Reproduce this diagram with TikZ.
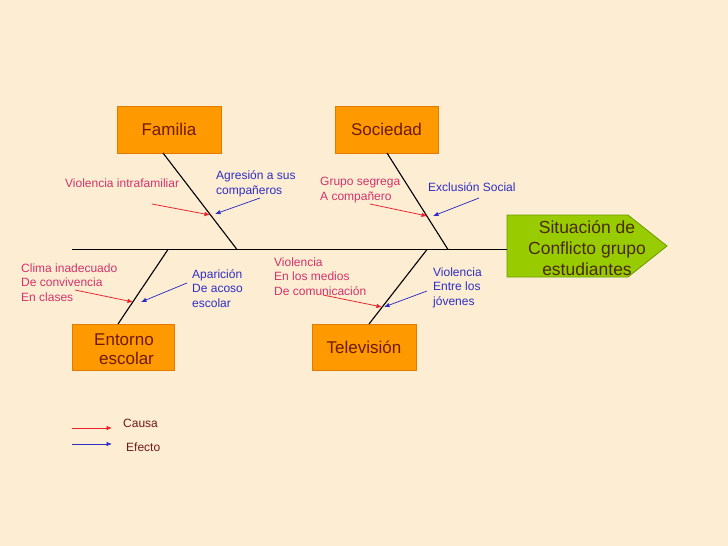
\documentclass[tikz,border=0pt]{standalone}
\usepackage{fontspec}
\setmainfont{Liberation Sans}
\usetikzlibrary{arrows.meta}
\definecolor{bg}{HTML}{FCEDD3}
\definecolor{boxfill}{HTML}{FF9900}
\definecolor{boxline}{HTML}{E07A00}
\definecolor{boxtext}{HTML}{6E1A00}
\definecolor{goalfill}{HTML}{99CC00}
\definecolor{goalline}{HTML}{6B9900}
\definecolor{goaltext}{HTML}{4A2A00}
\definecolor{causecol}{HTML}{D4336A}
\definecolor{effectcol}{HTML}{2E2EC4}
\definecolor{redarrow}{HTML}{E8202A}
\definecolor{legendtext}{HTML}{6E1A1A}
\begin{document}
\begin{tikzpicture}[x=1pt,y=-1pt,
  catbox/.style={draw=boxline, fill=boxfill, line width=0.8pt, text=boxtext,
    font=\fontsize{17}{18.5}\selectfont, inner sep=0pt, align=center},
  bone/.style={black, line width=1.1pt},
  causetxt/.style={text=causecol, font=\fontsize{12}{14.4}\selectfont, anchor=base west, inner sep=0pt, align=left},
  effecttxt/.style={text=effectcol, font=\fontsize{12}{14.4}\selectfont, anchor=base west, inner sep=0pt, align=left},
  legendtxt/.style={text=legendtext, font=\fontsize{12}{14}\selectfont, anchor=base west, inner sep=0pt},
  causearrow/.style={redarrow, line width=0.75pt, -{Latex[length=5.5pt,width=4.5pt]}},
  effectarrow/.style={effectcol, line width=0.75pt, -{Latex[length=5.5pt,width=4.5pt]}}]
\useasboundingbox (0,0) rectangle (728,546);
\fill[bg] (0,0) rectangle (728,546);

% effect (head)
\filldraw[fill=goalfill, draw=goalline, line width=0.8pt]
  (507,215) -- (628,215) -- (667,246) -- (628,277) -- (507,277) -- cycle;
\node (goal) [text=goaltext, font=\fontsize{17.5}{21}\selectfont, align=center, inner sep=0pt,
  minimum width=160pt, minimum height=62pt] at (587,248)
  {Situación de\\Conflicto grupo\\estudiantes};

% category boxes
\node (fam) [catbox, minimum width=104pt, minimum height=47pt] at (169,129.5) {Familia};
\node (soc) [catbox, minimum width=103pt, minimum height=47pt] at (386.5,129.5) {Sociedad};
\node (ent) [catbox, minimum width=102pt, minimum height=46pt] at (123,347) {};
\node (enttxt) [text=boxtext, font=\fontsize{17}{18.5}\selectfont, inner sep=0pt, align=center]
  at (124,349) {Entorno\\\hspace*{5pt}escolar};
\node (tel) [catbox, minimum width=104pt, minimum height=46pt] at (364,347) {Televisión};

% spine and bones
\coordinate (spinestart) at (72,249.5);
\draw[bone] (spinestart) -- (507,249.5);
\coordinate (famtop) at (163,153);   \coordinate (famfoot) at (237,249.5);
\coordinate (soctop) at (387,153);   \coordinate (socfoot) at (448,249.5);
\coordinate (entbot) at (118,324);   \coordinate (entfoot) at (168,249.5);
\coordinate (telbot) at (369,324);   \coordinate (telfoot) at (427,249.5);
\draw[bone] (famtop) -- (famfoot);
\draw[bone] (soctop) -- (socfoot);
\draw[bone] (entbot) -- (entfoot);
\draw[bone] (telbot) -- (telfoot);

% labels (base = baseline of last line)
\node (l1) [causetxt] at (65,187) {Violencia intrafamiliar};
\node (l2) [effecttxt] at (216,194) {Agresión a sus\\compañeros};
\node (l3) [causetxt] at (320,200) {Grupo segrega\\A compañero};
\node (l4) [effecttxt] at (428,191) {Exclusión Social};
\node (l5) [causetxt] at (21,301) {Clima inadecuado\\De convivencia\\En clases};
\node (l6) [effecttxt] at (192,307) {Aparición\\De acoso\\escolar};
\node (l7) [causetxt] at (274,295) {Violencia\\En los medios\\De comunicación};
\node (l8) [effecttxt] at (433,305) {Violencia\\Entre los\\jóvenes};

% small arrows
\coordinate (a1s) at (152,204); \coordinate (a1e) at (210,215);
\coordinate (b1s) at (260,198); \coordinate (b1e) at (215,214);
\coordinate (a2s) at (370,204); \coordinate (a2e) at (427,216);
\coordinate (b2s) at (479,198); \coordinate (b2e) at (433,216);
\coordinate (a3s) at (75,290);  \coordinate (a3e) at (133,302);
\coordinate (b3s) at (187,283); \coordinate (b3e) at (141,302);
\coordinate (a4s) at (323,295); \coordinate (a4e) at (382,307);
\coordinate (b4s) at (427,291); \coordinate (b4e) at (384,307);
\draw[causearrow] (a1s) -- (a1e);
\draw[effectarrow] (b1s) -- (b1e);
\draw[causearrow] (a2s) -- (a2e);
\draw[effectarrow] (b2s) -- (b2e);
\draw[causearrow] (a3s) -- (a3e);
\draw[effectarrow] (b3s) -- (b3e);
\draw[causearrow] (a4s) -- (a4e);
\draw[effectarrow] (b4s) -- (b4e);

% legend
\coordinate (lc1) at (72,428); \coordinate (lc2) at (112,428);
\coordinate (le1) at (72,444); \coordinate (le2) at (112,444);
\draw[causearrow] (lc1) -- (lc2);
\draw[effectarrow] (le1) -- (le2);
\node (causa) [legendtxt] at (123,427) {Causa};
\node (efecto) [legendtxt] at (126,451) {Efecto};
\end{tikzpicture}
\end{document}
